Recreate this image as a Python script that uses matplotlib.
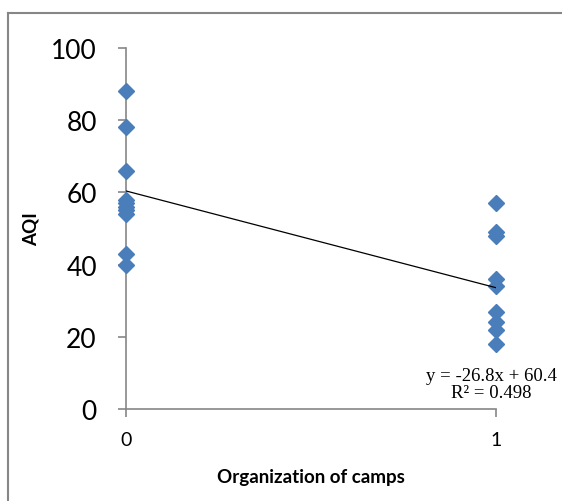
import matplotlib.pyplot as plt
from matplotlib.lines import Line2D

# AQI readings, camps not organized (0) / organized (1)
aqi_no_camp = [88, 78, 66, 58, 57, 56, 55, 54, 43, 40]
aqi_camp = [57, 49, 48, 36, 34, 27, 24, 22, 18]

# trendline reported on the chart
slope = -26.8
intercept = 60.4
r2 = 0.498

yticks = [0, 20, 40, 60, 80, 100]
xticks = [0, 1]

grey = '#868686'
blue = '#4a7ebb'

fig = plt.figure(figsize=(5.62, 5.02), dpi=100)
# chart-area frame (only left and top edges are inside the picture)
fx, fy = 7.5 / 562, 1 - 13.5 / 502
fig.lines.append(Line2D([fx, fx], [0, fy], transform=fig.transFigure,
                        color=grey, linewidth=1.5))
fig.lines.append(Line2D([fx, 1], [fy, fy], transform=fig.transFigure,
                        color=grey, linewidth=1.5))

ax = fig.add_axes([126 / 562, 1 - 410 / 502, 370 / 562, 361 / 502])

xs = [0] * len(aqi_no_camp) + [1] * len(aqi_camp)
ys = aqi_no_camp + aqi_camp
ax.plot(xs, ys, linestyle='none', marker='D', markersize=8,
        color=blue, markeredgecolor=blue, clip_on=False, zorder=3)

ax.plot([0, 1], [intercept, intercept + slope], color='black',
        linewidth=0.9, zorder=4)

ax.set_xlim(0, 1)
ax.set_ylim(0, 100)
ax.set_xticks(xticks)
ax.set_yticks(yticks)

for s in ['top', 'right']:
    ax.spines[s].set_visible(False)
for s in ['left', 'bottom']:
    ax.spines[s].set_color(grey)
    ax.spines[s].set_linewidth(1.2)

ax.tick_params(axis='y', direction='out', length=6, width=1.2, color=grey,
               pad=15, labelsize=19)
ax.tick_params(axis='x', direction='out', length=6, width=1.2, color=grey,
               pad=10, labelsize=14)
for lab in ax.get_yticklabels() + ax.get_xticklabels():
    lab.set_fontfamily('Lato')

ax.set_ylabel('AQI', fontsize=13.5, fontweight='bold', family='Lato',
              labelpad=8)
ax.set_xlabel('Organization of camps', fontsize=13.5, fontweight='bold',
              family='Lato', labelpad=14)

ax.text(491 / 562, 1 - 385 / 502,
        'y = %.1fx + %.1f\nR² = %.3f' % (slope, intercept, r2),
        transform=fig.transFigure, ha='center', va='center',
        family='Liberation Serif', fontsize=13.5, linespacing=1.05)

fig.savefig('out.png', dpi=100)
